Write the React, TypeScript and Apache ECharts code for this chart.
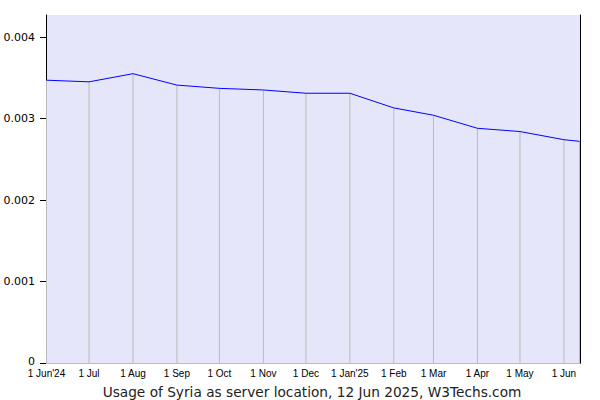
import React, { useEffect, useRef } from "react";
import * as echarts from "echarts";

const dates = [
  "2024-06-01", "2024-07-01", "2024-08-01", "2024-09-01", "2024-10-01",
  "2024-11-01", "2024-12-01", "2025-01-01", "2025-02-01", "2025-03-01",
  "2025-04-01", "2025-05-01", "2025-06-01", "2025-06-12",
];
const usage = [
  0.00347, 0.00345, 0.00355, 0.00341, 0.00337, 0.00335, 0.00331,
  0.00331, 0.00313, 0.00304, 0.00288, 0.00284, 0.00274, 0.00272,
];
const yTicks = [0, 0.001, 0.002, 0.003, 0.004];
const monthNames = ["Jan", "Feb", "Mar", "Apr", "May", "Jun", "Jul", "Aug", "Sep", "Oct", "Nov", "Dec"];
const titleText = "Usage of Syria as server location, 12 Jun 2025, W3Techs.com";

const DAY = 86400000;

export default function App() {
  const ref = useRef<HTMLDivElement>(null);
  useEffect(() => {
    document.body.style.margin = "0";
    const chart = echarts.init(ref.current!, null, { renderer: "svg" });
    const pts = dates.map((d, i) => [new Date(d + "T00:00:00Z").getTime(), usage[i]]);
    const xMin = pts[0][0];
    const xMax = pts[pts.length - 1][0];
    const yMax = 0.00427;
    chart.setOption({
      animation: false,
      title: {
        text: titleText,
        left: 307,
        textAlign: "center",
        top: 380,
        textStyle: { fontFamily: "DejaVu Sans", fontSize: 13.7, fontWeight: "normal", color: "#222" },
      },
      grid: {
        left: 46, right: 20, top: 15, bottom: 37,
        show: true, backgroundColor: "#e6e6fa", borderWidth: 0,
      },
      xAxis: {
        type: "time",
        min: xMin,
        max: xMax,
        minInterval: 28 * DAY,
        maxInterval: 31 * DAY,
        axisLine: { show: true, lineStyle: { color: "#000", width: 1 } },
        axisTick: { show: false },
        splitLine: { show: false },
        axisLabel: {
          fontFamily: "Liberation Sans",
          fontSize: 10,
          lineHeight: 11,
          color: "#000",
          margin: 5,
          hideOverlap: false,
          showMinLabel: true,
          showMaxLabel: false,
          formatter: (v: number) => {
            const d = new Date(v);
            if (d.getUTCDate() !== 1) return "";
            const m = d.getUTCMonth();
            const y = String(d.getUTCFullYear()).slice(2);
            if (m === 0 || v === xMin) return "1 " + monthNames[m] + "'" + y;
            return "1 " + monthNames[m];
          },
        },
      },
      yAxis: [
        {
          type: "value",
          min: 0,
          max: yMax,
          interval: 0.001,
          axisLine: { show: true, lineStyle: { color: "#000", width: 1 } },
          axisTick: { show: true, length: 6, lineStyle: { color: "#000" }, customValues: yTicks },
          splitLine: { show: false },
          axisLabel: {
            customValues: yTicks,
            fontFamily: "DejaVu Sans",
            fontSize: 11,
            lineHeight: 11,
            color: "#000",
            margin: 11,
            formatter: (v: number) => (v === 0 ? "{z|0}" : v.toFixed(3)),
            rich: {
              z: { fontFamily: "DejaVu Sans", fontSize: 11, lineHeight: 11, color: "#000", padding: [0, 0, 4, 0] },
            },
          },
        },
        {
          type: "value",
          position: "right",
          min: 0,
          max: yMax,
          axisLine: { show: true, lineStyle: { color: "#000", width: 1 } },
          axisTick: { show: false },
          axisLabel: { show: false },
          splitLine: { show: false },
        },
      ],
      series: [
        {
          type: "bar",
          data: pts,
          barWidth: 1,
          itemStyle: { color: "#bbbbbb" },
          z: 1,
          silent: true,
          markLine: {
            silent: true,
            symbol: "none",
            label: { show: false },
            lineStyle: { color: "#bbbbbb", width: 1, type: "solid" },
            data: yTicks.filter((t) => t > 0).map((t) => ({ yAxis: t })),
          },
        },
        {
          type: "line",
          data: pts,
          showSymbol: false,
          symbol: "none",
          lineStyle: { color: "#0000ff", width: 1 },
          itemStyle: { color: "#0000ff" },
          z: 3,
        },
      ],
    });
    return () => chart.dispose();
  }, []);
  return <div ref={ref} style={{ width: 600, height: 400 }} />;
}
